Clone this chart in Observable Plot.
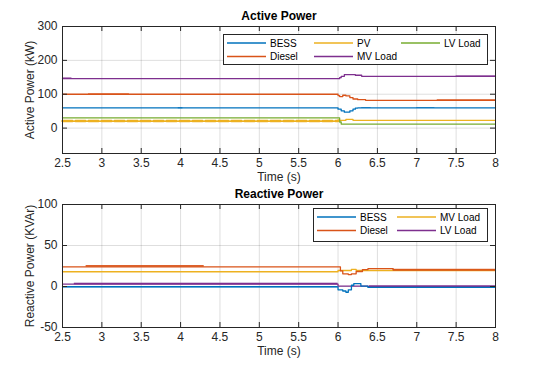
<!DOCTYPE html>
<html><head><meta charset="utf-8">
<script src="https://cdn.jsdelivr.net/npm/d3@7"></script>
<script src="https://cdn.jsdelivr.net/npm/@observablehq/plot@0.6"></script>
<style>
body{margin:0;background:#fff;}
#fig{position:relative;width:535px;height:374px;font-family:"Liberation Sans",Arial,Helvetica,sans-serif;overflow:hidden;}
#fig svg.plot{position:absolute;left:0;}
.legend{position:absolute;}
</style></head><body><div id="fig"></div>
<script>
// ---------- tick labels ----------
const xTicks = [2.5, 3, 3.5, 4, 4.5, 5, 5.5, 6, 6.5, 7, 7.5, 8];
const yTicksTop = [0, 100, 200, 300];
const yTicksBot = [-50, 0, 50, 100];

// ---------- Active power (kW) ----------
const topNames = ["BESS", "PV", "LV Load", "Diesel", "MV Load"];
const topColors = ["#0072BD", "#EDB120", "#77AC30", "#D95319", "#7E2F8E"];
const tTop     = [2.5, 6.0, 6.02, 6.04, 6.06, 6.08, 6.1, 6.15, 6.19, 6.22, 6.25, 6.3, 6.35, 8.0];
const bessP    = [60, 56, 56, 51, 51, 47, 47, 51, 56, 59, 60, 60, 60, 60];
const pvP      = [20, 24, 23, 23, 23, 23, 26, 26, 23, 23, 23, 23, 23, 23];
const lvLoadP  = [30, 30, 18, 12, 12, 12, 12, 12, 12, 12, 12, 12, 12, 12];
const dieselP  = [100, 96, 93, 93, 97, 97, 95, 90, 86, 86, 84, 84, 82, 82];
const mvLoadP  = [146, 146, 149, 153, 153, 158, 158, 158, 158, 156, 156, 153, 153, 153];
// noisy stretches: series, start, end, low, high
const noiseTop = [
  ["MV Load", 2.5, 2.62, 144, 148],
  ["Diesel", 2.83, 3.35, 98, 101],
  ["BESS", 3.97, 4.03, 57, 60],
  ["BESS", 6.3, 6.42, 58, 60],
  ["BESS", 7.0, 7.23, 58, 60],
  ["Diesel", 7.26, 8.0, 81, 83.5],
  ["MV Load", 7.5, 8.0, 151, 154]
];
const pvRippleT = [2.5, 6.0];
const pvRippleV = [21, 21];

// ---------- Reactive power (kVAr) ----------
const botNames = ["BESS", "MV Load", "Diesel", "LV Load"];
const botColors = ["#0072BD", "#EDB120", "#D95319", "#7E2F8E"];
const tBot     = [2.5, 6.0, 6.03, 6.06, 6.1, 6.13, 6.17, 6.2, 6.23, 6.29, 6.31, 6.38, 6.7, 8.0];
const bessQ    = [-0.5, -4, -4, -5.5, -7, -4, 1.5, 3.5, 3.5, 0.5, 0.5, -1, -1, -1];
const dieselQ  = [24, 24, 19, 15.5, 15.5, 14.6, 15.5, 15.5, 18.3, 18.3, 20.7, 21.7, 20.1, 20.1];
const mvLoadQ  = [18, 19.5, 19.5, 19.5, 19.5, 19.5, 21, 21, 19.5, 19.5, 19.5, 19.5, 19.5, 19.5];
const lvLoadQ  = [3, 0.5, 0.5, 0.5, 0.5, 0.5, 0.5, 0.5, 0.5, 0.5, 0.5, 0, 0, 0];
const noiseBot = [
  ["Diesel", 2.8, 4.3, 23.5, 25.5],
  ["LV Load", 2.65, 6.0, 2, 4],
  ["BESS", 2.5, 6.0, -1.5, 0],
  ["Diesel", 6.7, 8.0, 19.5, 21],
  ["BESS", 6.38, 8.0, -1.8, 0],
  ["LV Load", 6.4, 8.0, -0.5, 0.8]
];

// ---------- build tables ----------
function rows(t, name, vals) { return t.map((x, i) => ({t: x, v: vals[i], s: name})); }
const topData = [
  ...rows(tTop, "BESS", bessP), ...rows(tTop, "PV", pvP), ...rows(tTop, "LV Load", lvLoadP),
  ...rows(tTop, "Diesel", dieselP), ...rows(tTop, "MV Load", mvLoadP)
];
const botData = [
  ...rows(tBot, "MV Load", mvLoadQ), ...rows(tBot, "Diesel", dieselQ),
  ...rows(tBot, "LV Load", lvLoadQ), ...rows(tBot, "BESS", bessQ)
];
const toRect = a => ({s: a[0], t1: a[1], t2: a[2], lo: a[3], hi: a[4]});
const pvRipple = rows(pvRippleT, "PV", pvRippleV);

const W = 535, H = 187, ML = 62, MR = 40;
const font = '"Liberation Sans", Arial, Helvetica, sans-serif';

function panel({data, noise, names, colors, yDomain, yTicks, title, ylabel, mt, mb, extra}) {
  const ph = H - mt - mb, pw = W - ML - MR;
  return Plot.plot({
    width: W, height: H, marginLeft: ML, marginRight: MR, marginTop: mt, marginBottom: mb,
    style: {fontFamily: font, fontSize: "11px", color: "#262626", background: "transparent"},
    x: {domain: [2.5, 8]},
    y: {domain: yDomain},
    color: {domain: names, range: colors},
    marks: [
      Plot.gridX(xTicks, {stroke: "#000", strokeOpacity: 0.13}),
      Plot.gridY(yTicks, {stroke: "#000", strokeOpacity: 0.13}),
      Plot.rect(noise.map(toRect), {x1: "t1", x2: "t2", y1: "lo", y2: "hi", fill: "s"}),
      Plot.line(data, {x: "t", y: "v", z: "s", stroke: "s", curve: "step-after", strokeWidth: 1.3}),
      ...(extra || []),
      Plot.frame({stroke: "#262626", strokeWidth: 1}),
      Plot.tickX(xTicks, {x: d => d, insetTop: ph - 5, stroke: "#262626"}),
      Plot.tickX(xTicks, {x: d => d, insetBottom: ph - 5, stroke: "#262626"}),
      Plot.tickY(yTicks, {y: d => d, insetRight: pw - 5, stroke: "#262626"}),
      Plot.tickY(yTicks, {y: d => d, insetLeft: pw - 5, stroke: "#262626"}),
      Plot.axisX(xTicks, {tickSize: 0, tickPadding: 5, label: null, fontSize: 12, tickFormat: d => String(d)}),
      Plot.axisY(yTicks, {tickSize: 0, tickPadding: 5, label: null, fontSize: 12, tickFormat: d => String(d)}),
      Plot.text([title], {frameAnchor: "top", dy: -10, lineAnchor: "middle", textAnchor: "middle", fontWeight: "bold", fontSize: 12, fill: "#000"}),
      Plot.text(["Time (s)"], {frameAnchor: "bottom", dy: 24, lineAnchor: "middle", textAnchor: "middle", fontSize: 12}),
      Plot.text([ylabel], {frameAnchor: "left", dx: -32, rotate: -90, lineAnchor: "middle", textAnchor: "middle", fontSize: 12})
    ]
  });
}

const fig = document.getElementById("fig");
const topPlot = panel({
  data: topData, noise: noiseTop, names: topNames, colors: topColors,
  yDomain: [-75, 300], yTicks: yTicksTop, title: "Active Power", ylabel: "Active Power (kW)",
  mt: 26, mb: 34,
  extra: [Plot.line(pvRipple, {x: "t", y: "v", stroke: "s", strokeWidth: 2.5, strokeDasharray: "10,3"})]
});
topPlot.classList.add("plot"); topPlot.style.top = "0px";
fig.appendChild(topPlot);
const botPlot = panel({
  data: botData, noise: noiseBot, names: botNames, colors: botColors,
  yDomain: [-50, 100], yTicks: yTicksBot, title: "Reactive Power", ylabel: "Reactive Power (KVAr)",
  mt: 17, mb: 47
});
botPlot.classList.add("plot"); botPlot.style.top = "187px";
fig.appendChild(botPlot);

// ---------- legends ----------
function legend(names, colors, cols, left, topPx, width, height, colW) {
  const svg = d3.create("svg").attr("class", "legend").attr("width", width).attr("height", height)
    .style("left", left + "px").style("top", topPx + "px");
  svg.append("rect").attr("x", 0.5).attr("y", 0.5).attr("width", width - 1).attr("height", height - 1)
    .attr("fill", "#fff").attr("stroke", "#262626");
  names.forEach((n, i) => {
    const c = i % cols, r = Math.floor(i / cols);
    const x0 = 4 + c * colW, y0 = 9 + r * 13.5;
    svg.append("line").attr("x1", x0).attr("x2", x0 + 39).attr("y1", y0).attr("y2", y0)
      .attr("stroke", colors[i]).attr("stroke-width", 1.3);
    svg.append("text").attr("x", x0 + 43).attr("y", y0).attr("dy", "0.35em")
      .attr("font-size", 10).attr("font-family", font).attr("fill", "#000").text(n);
  });
  return svg.node();
}
fig.appendChild(legend(topNames, topColors, 3, 223, 34, 265, 31, 87));
fig.appendChild(legend(["BESS", "MV Load", "Diesel", "LV Load"], ["#0072BD", "#EDB120", "#D95319", "#7E2F8E"], 2, 313, 208, 175, 34, 80));
</script></body></html>
